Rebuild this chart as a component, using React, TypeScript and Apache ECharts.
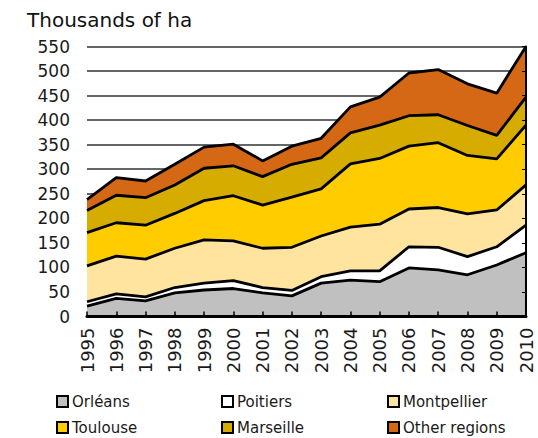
import React, { useEffect, useRef } from "react";
import * as echarts from "echarts";

const years = ["1995","1996","1997","1998","1999","2000","2001","2002","2003","2004","2005","2006","2007","2008","2009","2010"];
const orleans = [21, 37, 32, 48, 54, 57, 48, 42, 68, 74, 71, 99, 95, 85, 105, 130];
const poitiers = [9, 9, 8, 11, 14, 16, 11, 11, 13, 19, 22, 43, 46, 37, 37, 56];
const montpellier = [73, 77, 77, 80, 88, 81, 80, 88, 83, 89, 95, 77, 81, 87, 75, 82];
const toulouse = [68, 68, 69, 71, 80, 92, 88, 102, 96, 129, 134, 128, 132, 119, 104, 122];
const marseille = [45, 56, 56, 58, 66, 61, 58, 67, 63, 63, 68, 62, 57, 61, 48, 57];
const otherRegions = [22, 36, 34, 42, 43, 44, 32, 37, 40, 53, 57, 87, 92, 85, 86, 103];

const seriesNames = ["Orléans", "Poitiers", "Montpellier", "Toulouse", "Marseille", "Other regions"];
const seriesData = [orleans, poitiers, montpellier, toulouse, marseille, otherRegions];
const seriesColors = ["#c0c0c0", "#ffffff", "#ffe4a0", "#ffcc00", "#d6ac00", "#d56815"];
const yTicks = { min: 0, max: 550, interval: 50 };

const FONT = "DejaVu Sans";

export default function App() {
  const ref = useRef<HTMLDivElement>(null);
  useEffect(() => {
    if (!ref.current) return;
    const chart = echarts.init(ref.current, null, { renderer: "svg" });
    const areaSeries = seriesNames.map((name, i) => ({
      name,
      type: "line",
      stack: "area",
      data: seriesData[i],
      symbol: "none",
      color: seriesColors[i],
      itemStyle: { color: seriesColors[i] },
      lineStyle: { width: 0, color: "#000" },
      areaStyle: { color: seriesColors[i], opacity: 1 },
      z: 2,
    }));
    const lineSeries = seriesNames.map((name, i) => ({
      name: name + " line",
      type: "line",
      stack: "lines",
      data: seriesData[i],
      symbol: "none",
      lineStyle: { width: 2.8, color: "#000" },
      z: 4,
      silent: true,
    }));
    const legendPos = [
      { left: 56, top: 394 },
      { left: 221, top: 394 },
      { left: 387, top: 394 },
      { left: 56, top: 420 },
      { left: 221, top: 420 },
      { left: 387, top: 420 },
    ];
    const legends = seriesNames.map((name, i) => ({
      data: [name],
      left: legendPos[i].left,
      top: legendPos[i].top,
      padding: 0,
      icon: "rect",
      itemWidth: 11,
      itemHeight: 11,
      itemGap: 0,
      itemStyle: { borderColor: "#000", borderWidth: 2 },
      textStyle: { fontFamily: FONT, fontSize: 15, color: "#1a1a1a", padding: [0, 0, 0, -1] },
      selectedMode: false,
    }));
    chart.setOption({
      animation: false,
      title: {
        text: "Thousands of ha",
        left: 22,
        top: 5,
        textStyle: { fontFamily: FONT, fontSize: 20, fontWeight: "normal", color: "#111" },
      },
      legend: legends,
      grid: { left: 87, right: 12, top: 46.5, bottom: 121.5, containLabel: false },
      xAxis: {
        type: "category",
        boundaryGap: false,
        data: years,
        axisLine: { lineStyle: { color: "#000", width: 3 } },
        axisTick: { inside: true, length: 5, lineStyle: { color: "#000", width: 1.5 } },
        axisLabel: { rotate: 90, fontFamily: FONT, fontSize: 18, color: "#1a1a1a", margin: 11 },
        splitLine: { show: false },
        z: 5,
      },
      yAxis: [
        {
          type: "value",
          ...yTicks,
          axisLine: { show: false },
          axisTick: { show: false },
          axisLabel: { fontFamily: FONT, fontSize: 17, color: "#1a1a1a", margin: 17 },
          splitLine: { lineStyle: { color: "#333", width: 1.5 } },
        },
        {
          type: "value",
          position: "right",
          ...yTicks,
          axisLine: { show: true, lineStyle: { color: "#000", width: 2 } },
          axisTick: { show: true, inside: true, length: 4, lineStyle: { color: "#000", width: 1 } },
          axisLabel: { show: false },
          splitLine: { show: false },
          z: 5,
        },
      ],
      series: [...areaSeries, ...lineSeries],
    });
    return () => chart.dispose();
  }, []);
  return (
    <div
      ref={ref}
      style={{ position: "absolute", left: 0, top: 0, width: 538, height: 438, background: "#fff" }}
    />
  );
}
